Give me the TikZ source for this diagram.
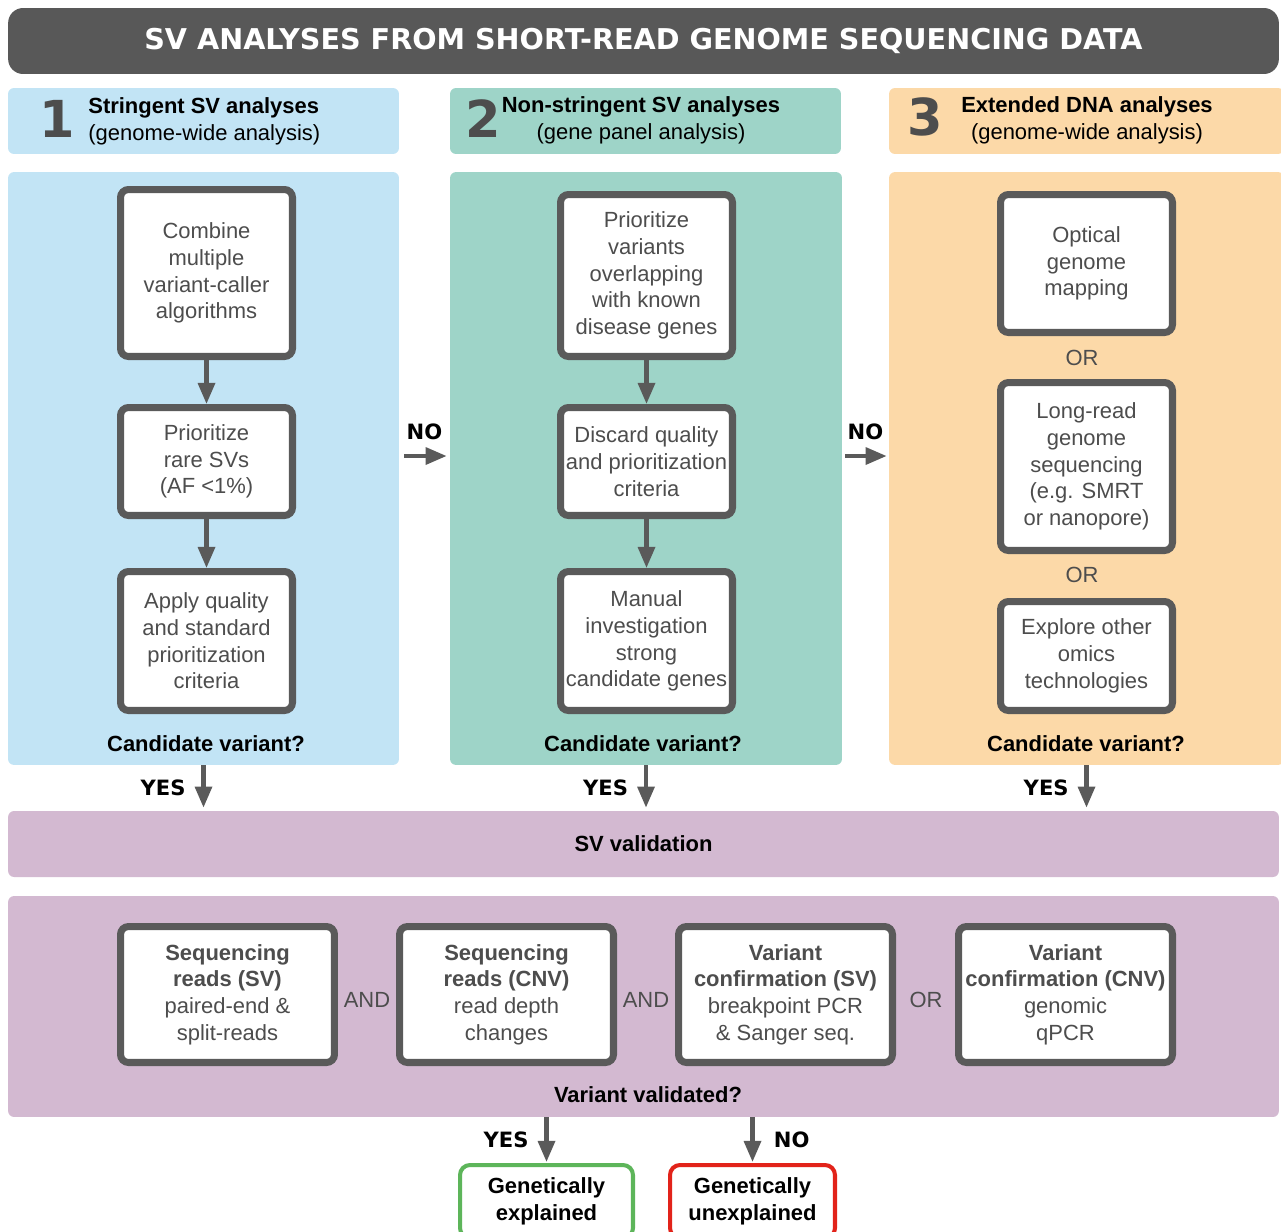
\documentclass[tikz,border=0pt]{standalone}
\usepackage{fontspec}
\setmainfont{Liberation Sans}
\newfontfamily\headfont{DejaVu Sans}
\usetikzlibrary{arrows.meta}

\definecolor{titlegray}{HTML}{585858}
\definecolor{boxgray}{HTML}{5A5A5A}
\definecolor{textgray}{HTML}{4D4D4D}
\definecolor{arrowgray}{HTML}{5A5A5A}
\definecolor{skyblue}{HTML}{C2E4F5}
\definecolor{seagreen}{HTML}{9ED4C8}
\definecolor{peach}{HTML}{FCD9A8}
\definecolor{mauve}{HTML}{D3B9D1}
\definecolor{okgreen}{HTML}{5DB55A}
\definecolor{badred}{HTML}{E2231A}

\tikzset{
  band/.style={minimum width=25.42cm, minimum height=1.32cm, inner sep=0pt, rounded corners=0.12cm},
  header/.style={minimum width=7.82cm, minimum height=1.32cm, inner sep=0pt, rounded corners=0.12cm},
  panel/.style={minimum width=7.82cm, minimum height=11.86cm, inner sep=0pt, rounded corners=0.12cm},
  stepbox/.style={draw=boxgray, line width=4pt, fill=white, rounded corners=0.16cm,
    align=center, text=textgray, inner sep=0pt, minimum width=3.44cm},
  checkbox/.style={stepbox, minimum width=4.28cm, minimum height=2.72cm},
  endbox/.style={draw, line width=2.3pt, fill=white, rounded corners=0.2cm, align=center,
    font=\bfseries\fontsize{12.5}{15.2}\selectfont, minimum width=3.46cm, minimum height=1.46cm, inner sep=0pt},
  bignum/.style={font=\headfont\bfseries\fontsize{29}{29}\selectfont, text=textgray},
  yesno/.style={font=\headfont\bfseries\fontsize{12}{12}\selectfont, text=black, inner sep=0pt},
  question/.style={font=\bfseries\fontsize{12.5}{15.2}\selectfont, text=black},
  joiner/.style={text=textgray, inner sep=0pt},
  arr/.style={draw=arrowgray, line width=2.4pt, -{Triangle[length=12pt,width=9.5pt]}},
}

\begin{document}
\begin{tikzpicture}[x=0.02cm, y=-0.02cm, every node/.style={font=\fontsize{12.5}{15.2}\selectfont}]
\clip (0,0) rectangle (1281,1231);

% title and column headers
\node[band, fill=titlegray, rounded corners=0.3cm, text=white,
  font=\headfont\bfseries\fontsize{16.3}{18}\selectfont] (title) at (643.5,41)
  {SV ANALYSES FROM SHORT-READ GENOME SEQUENCING DATA};

\node[header, fill=skyblue] (hd1) at (203.5,121) {};
\node[header, fill=seagreen] (hd2) at (645.5,121) {};
\node[header, fill=peach, minimum width=7.9cm] (hd3) at (1086.5,121) {};
\node[bignum] (num1) at (57,119) {1};
\node[bignum] (num2) at (483,119) {2};
\node[bignum] (num3) at (925,117) {3};
\node[anchor=west, align=left, inner sep=0pt] (hd1txt) at (88,121)
  {\textbf{Stringent SV analyses}\\(genome-wide analysis)};
\node[align=center, inner sep=0pt] (hd2txt) at (641,120)
  {\textbf{Non-stringent SV analyses}\\(gene panel analysis)};
\node[align=center, inner sep=0pt] (hd3txt) at (1087,120)
  {\textbf{Extended DNA analyses}\\(genome-wide analysis)};

% three analysis panels
\node[panel, fill=skyblue] (pan1) at (203.5,468.5) {};
\node[panel, fill=seagreen, minimum width=7.84cm] (pan2) at (646,468.5) {};
\node[panel, fill=peach, minimum width=7.9cm] (pan3) at (1086.5,468.5) {};

\node[stepbox, minimum height=3.34cm] (s1a) at (206.5,273) {Combine\\multiple\\variant-caller\\algorithms};
\node[stepbox, minimum height=2.16cm] (s1b) at (206.5,461.5) {Prioritize\\rare SVs\\(AF <1\%)};
\node[stepbox, minimum height=2.78cm] (s1c) at (206.5,641) {Apply quality\\and standard\\prioritization\\criteria};

\node[stepbox, minimum height=3.24cm] (s2a) at (646.5,275.5) {Prioritize\\variants\\overlapping\\with known\\disease genes};
\node[stepbox, minimum height=2.16cm] (s2b) at (646.5,461.5) {Discard quality\\and prioritization\\criteria};
\node[stepbox, minimum height=2.78cm] (s2c) at (646.5,641) {Manual\\investigation\\strong\\candidate genes};

\node[stepbox, minimum height=2.76cm] (s3a) at (1086.5,263.5) {Optical\\genome\\mapping};
\node[stepbox, minimum height=3.36cm] (s3b) at (1086.5,466.5) {Long-read\\genome\\sequencing\\(e.g. SMRT\\or nanopore)};
\node[stepbox, minimum height=2.18cm] (s3c) at (1086.5,656) {Explore other\\omics\\technologies};
\node[joiner] (or1) at (1082,358) {OR};
\node[joiner] (or2) at (1082,575) {OR};

\node[question] (q1) at (206,744) {Candidate variant?};
\node[question] (q2) at (643,744) {Candidate variant?};
\node[question] (q3) at (1086,744) {Candidate variant?};

\draw[arr] (s1a)--(s1b); \draw[arr] (s1b)--(s1c);
\draw[arr] (s2a)--(s2b); \draw[arr] (s2b)--(s2c);

\draw[arr, shorten <=0.1cm, shorten >=0.06cm] ([yshift=0.25cm]pan1.east) -- ([yshift=0.25cm]pan2.west)
  node[midway, above=8pt, yesno] {NO};
\draw[arr, shorten <=0.06cm, shorten >=0.04cm] ([yshift=0.25cm]pan2.east) -- ([yshift=0.25cm]pan3.west)
  node[midway, above=8pt, yesno] {NO};

% validation
\node[band, fill=mauve, font=\bfseries\fontsize{12.5}{15.2}\selectfont] (valband) at (643.5,844) {SV validation};
\node[band, fill=mauve, minimum height=4.42cm] (valpan) at (643.5,1006.5) {};

\draw[arr, shorten >=0.06cm] (pan1.south) -- (pan1.south |- valband.north) node[midway, left=9pt, yesno] {YES};
\draw[arr, shorten >=0.06cm] (pan2.south) -- (pan2.south |- valband.north) node[midway, left=9pt, yesno] {YES};
\draw[arr, shorten >=0.06cm] (pan3.south) -- (pan3.south |- valband.north) node[midway, left=9pt, yesno] {YES};

\node[checkbox] (c1) at (227.5,994.5) {\textbf{Sequencing}\\\textbf{reads (SV)}\\paired-end \&\\split-reads};
\node[checkbox] (c2) at (506.5,994.5) {\textbf{Sequencing}\\\textbf{reads (CNV)}\\read depth\\changes};
\node[checkbox] (c3) at (785.5,994.5) {\textbf{Variant}\\\textbf{confirmation (SV)}\\breakpoint PCR\\\& Sanger seq.};
\node[checkbox] (c4) at (1065.5,994.5) {\textbf{Variant}\\\textbf{confirmation (CNV)}\\genomic\\qPCR};
\node[joiner] (and1) at (367,1000) {AND};
\node[joiner] (and2) at (646,1000) {AND};
\node[joiner] (or3) at (926,1000) {OR};

\node[question] (q4) at (648,1095) {Variant validated?};

% outcome
\node[endbox, draw=okgreen] (expl) at (546.5,1201.5) {Genetically\\explained};
\node[endbox, draw=badred, minimum width=3.3cm] (unexpl) at (752.5,1201.5) {Genetically\\unexplained};

\draw[arr, shorten >=0.02cm] (valpan.south -| expl.north) -- (expl.north) node[midway, left=9pt, yesno] {YES};
\draw[arr, shorten >=0.02cm] (valpan.south -| unexpl.north) -- (unexpl.north) node[midway, right=11pt, yesno] {NO};
\end{tikzpicture}
\end{document}
